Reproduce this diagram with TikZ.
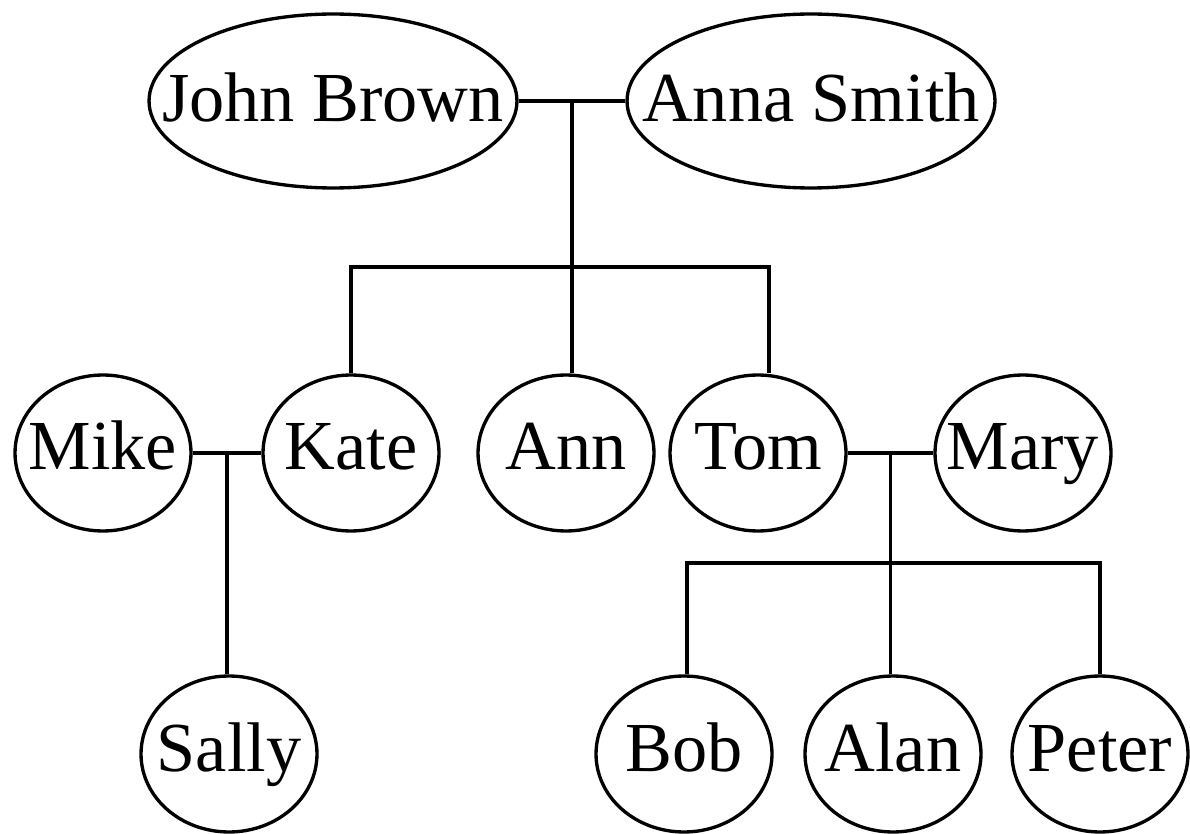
\documentclass[tikz,border=0pt]{standalone}
\usepackage{fontspec}
\setmainfont{Liberation Serif}
\usetikzlibrary{shapes.geometric, positioning}

\newcommand{\pname}[1]{\makebox[0pt]{#1}}

\begin{document}
\begin{tikzpicture}[x=0.02cm, y=-0.02cm,
    person/.style={draw, ellipse, line width=1.9pt, inner sep=0pt,
        minimum width=3.52cm, minimum height=3.12cm,
        font=\fontsize{40}{44}\selectfont, text height=0.9cm, text depth=0.22cm},
    couple/.style={person, minimum width=7.36cm, minimum height=3.48cm,
        text height=1.06cm},
    link/.style={line width=1.9pt}]
    \useasboundingbox (0,0) rectangle (1190,834);

    % Parents
    \node[couple] (john) at (333,101) {\pname{John Brown}};
    \node[couple] (anna) at (811,101) {\pname{Anna Smith}};

    % Children and partners
    \node[person] (mike) at (103,453) {\pname{Mike}};
    \node[person] (kate) at (351,453) {\pname{Kate}};
    \node[person] (ann) at (566,453) {\pname{Ann}};
    \node[person] (tom) at (758,453) {\pname{Tom}};
    \node[person] (mary) at (1023,453) {\pname{Mary}};

    % Grandchildren
    \node[person] (sally) at (229,754) {\pname{Sally}};
    \node[person] (bob) at (684,754) {\pname{Bob}};
    \node[person] (alan) at (893,754) {\pname{Alan}};
    \node[person] (peter) at (1100,754) {\pname{Peter}};

    % Brown family
    \coordinate (kidsL) at (351,267);
    \coordinate (kidsR) at (769,267);
    \draw[link] (john.east) -- coordinate (jaknot) (anna.west);
    \draw[link] (jaknot) -- (jaknot |- ann.north);
    \draw[link] (kate.north) -- (kidsL) -- (kidsR) -- (kidsR |- tom.north);

    % Mike and Kate
    \draw[link] (mike.east) -- coordinate (mkknot) (kate.west);
    \draw[link] (mkknot) -- (mkknot |- sally.north);

    % Tom and Mary
    \coordinate (grandL) at (687,563);
    \coordinate (grandR) at (1100,563);
    \draw[link] (tom.east) -- coordinate (tmknot) (mary.west);
    \draw[link] (tmknot) -- (tmknot |- alan.north);
    \draw[link] (grandL |- bob.north) -- (grandL) -- (grandR) -- (peter.north);
\end{tikzpicture}
\end{document}
